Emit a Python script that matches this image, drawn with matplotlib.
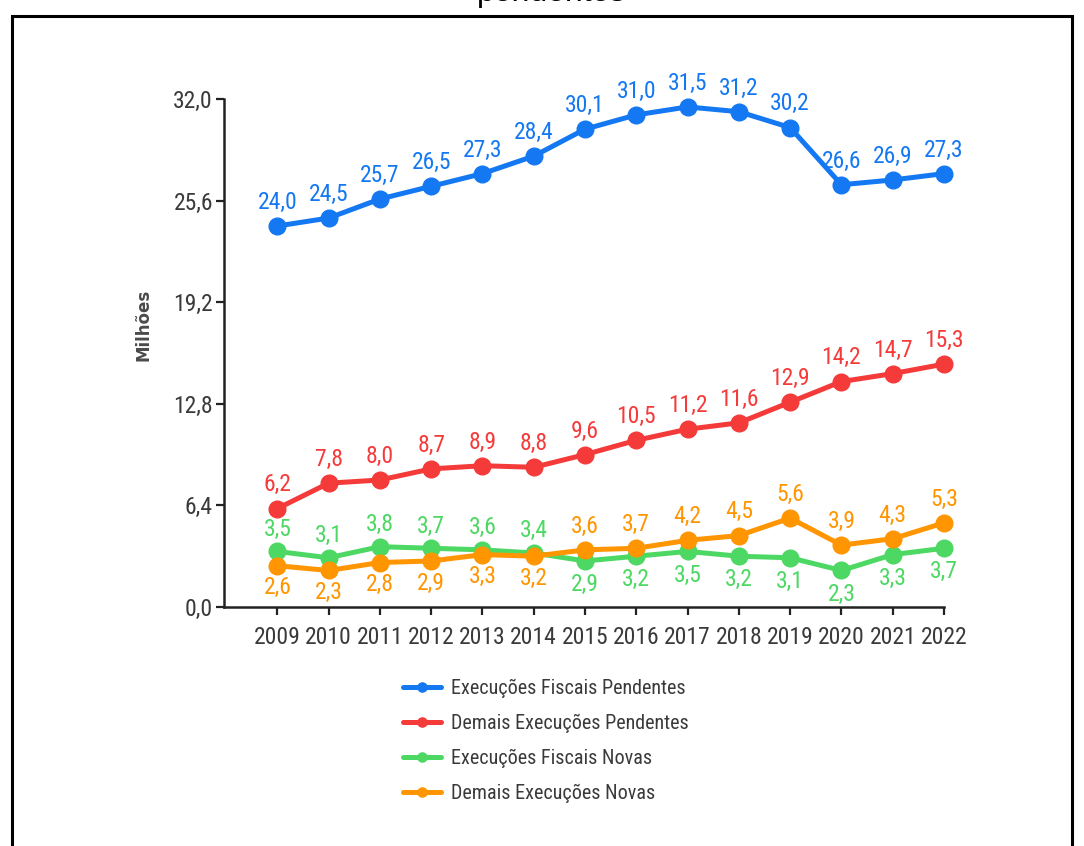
import matplotlib.pyplot as plt
from matplotlib.patches import Rectangle

plt.rcParams['font.family'] = ['Roboto Condensed', 'DejaVu Sans']
plt.rcParams['font.stretch'] = 'condensed'

anos = list(range(2009, 2023))
fiscais_pendentes = [24.0, 24.5, 25.7, 26.5, 27.3, 28.4, 30.1, 31.0, 31.5, 31.2, 30.2, 26.6, 26.9, 27.3]
demais_pendentes = [6.2, 7.8, 8.0, 8.7, 8.9, 8.8, 9.6, 10.5, 11.2, 11.6, 12.9, 14.2, 14.7, 15.3]
fiscais_novas = [3.5, 3.1, 3.8, 3.7, 3.6, 3.4, 2.9, 3.2, 3.5, 3.2, 3.1, 2.3, 3.3, 3.7]
demais_novas = [2.6, 2.3, 2.8, 2.9, 3.3, 3.2, 3.6, 3.7, 4.2, 4.5, 5.6, 3.9, 4.3, 5.3]
rotulos = ["Execuções Fiscais Pendentes", "Demais Execuções Pendentes",
           "Execuções Fiscais Novas", "Demais Execuções Novas"]
cores = ["#1478f2", "#f53a3a", "#4cd863", "#ff9500"]
yticks = [0.0, 6.4, 12.8, 19.2, 25.6, 32.0]

texto = "#3a3a3a"


def fmt(v):
    return f"{v:.1f}".replace(".", ",")


fig = plt.figure(figsize=(10.84, 8.46), dpi=100)
ax = fig.add_axes([224 / 1084, 1 - 607 / 846, 720 / 1084, 508 / 846])

series = [fiscais_pendentes, demais_pendentes, fiscais_novas, demais_novas]
for vals, cor, rot in zip(series, cores, rotulos):
    ax.plot(anos, vals, color=cor, lw=3.6, marker="o", ms=12,
            solid_capstyle="round", label=rot, clip_on=False)

# rótulos de valor: séries "novas" trocam de lado conforme qual está acima
for i, ano in enumerate(anos):
    for vals, cor in [(fiscais_pendentes, cores[0]), (demais_pendentes, cores[1])]:
        ax.annotate(fmt(vals[i]), (ano, vals[i]), xytext=(0, 17),
                    textcoords="offset points", ha="center", va="center",
                    color=cor, fontsize=17)
    g, o = fiscais_novas[i], demais_novas[i]
    dg = 16 if g >= o else -17
    ax.annotate(fmt(g), (ano, g), xytext=(0, dg), textcoords="offset points",
                ha="center", va="center", color=cores[2], fontsize=17)
    ax.annotate(fmt(o), (ano, o), xytext=(0, -dg), textcoords="offset points",
                ha="center", va="center", color=cores[3], fontsize=17)

ax.set_xlim(2007.96, 2022.0)
ax.set_ylim(0, 32)
ax.set_xticks(anos)
ax.set_xticklabels([str(a) for a in anos])
ax.set_yticks(yticks)
ax.set_yticklabels([fmt(v) for v in yticks])
ax.tick_params(axis="both", colors="#222222", labelcolor=texto,
               labelsize=17, width=1.6, length=6)
ax.tick_params(axis="x", pad=8)
ax.tick_params(axis="y", pad=2)
for s in ["top", "right"]:
    ax.spines[s].set_visible(False)
for s in ["left", "bottom"]:
    ax.spines[s].set_linewidth(1.8)
    ax.spines[s].set_color("#222222")

fig.text(143 / 1084, 1 - 325 / 846, "Milhões", rotation=90, ha="center",
         va="center", fontsize=12, color="#4a4a4a", weight="bold",
         family="DejaVu Sans", stretch="normal")

leg = ax.legend(loc="upper left", bbox_to_anchor=(403 / 1084, 1 - 679 / 846),
                bbox_transform=fig.transFigure, frameon=False, fontsize=14.5,
                handlelength=1.9, handletextpad=0.5, labelspacing=0.78,
                borderpad=0, borderaxespad=0, markerscale=0.55)
for t in leg.get_texts():
    t.set_color(texto)
for h in leg.get_lines():
    h.set_linewidth(3.6)

# moldura e título cortado no topo
fig.patches.append(Rectangle((12 / 1084, -0.1), 1060 / 1084, 1.1 - 16 / 846,
                             transform=fig.transFigure, fill=False,
                             edgecolor="black", lw=2.2))
fig.text(552 / 1084, 1 - 1 / 846, "pendentes", ha="center", va="baseline",
         fontsize=23, color="black", family="Liberation Sans", stretch="normal")

fig.savefig("out.png", dpi=100)
